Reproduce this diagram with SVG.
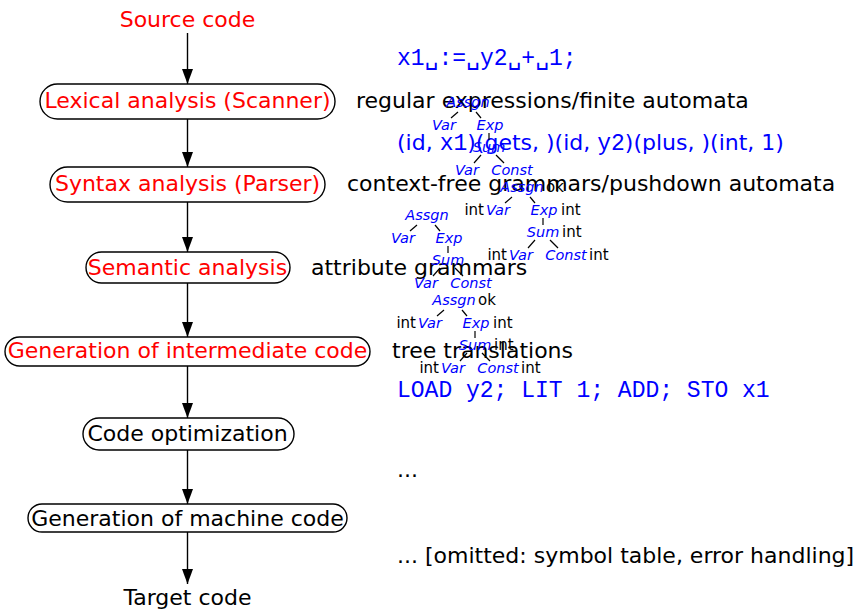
<svg xmlns="http://www.w3.org/2000/svg" xmlns:xlink="http://www.w3.org/1999/xlink" width="863" height="611" viewBox="0 0 863 611">
  <style>
    .bg { fill: #ffffff; }
    .main { font-family: "DejaVu Sans", "Liberation Sans", sans-serif; font-size: 22px; }
    .red { fill: #ff0000; }
    .ink { fill: #000000; }
    .blue { fill: #0000ff; }
    .box { fill: #ffffff; stroke: #000000; stroke-width: 1.4; }
    .edge { stroke: #000000; stroke-width: 1.4; fill: none; }
    .mono { font-family: "Liberation Mono", "DejaVu Sans Mono", monospace; font-size: 23px; }
    .tn { font-family: "DejaVu Sans", sans-serif; font-size: 14.5px; font-style: italic; fill: #0000ff; }
    .ta { font-family: "DejaVu Sans", sans-serif; font-size: 15px; fill: #000000; }
    .tl { stroke: #000000; stroke-width: 1.2; }
  </style>
  <defs>
    <marker id="arrow" markerUnits="userSpaceOnUse" markerWidth="15" markerHeight="11" viewBox="0 0 15 11" refX="15" refY="5.5" orient="auto">
      <path d="M0,0 L15,5.5 L0,11 z" fill="#000000"/>
    </marker>
    <!-- abstract syntax tree of the assignment, origin = centre/baseline of the root -->
    <g id="tree-plain">
      <text class="tn" x="0" y="0" text-anchor="middle">Assgn</text>
      <line class="tl" x1="-10" y1="5" x2="-17" y2="11"/>
      <line class="tl" x1="8" y1="5" x2="13" y2="11"/>
      <text class="tn" x="-24" y="23" text-anchor="middle">Var</text>
      <text class="tn" x="22" y="23" text-anchor="middle">Exp</text>
      <line class="tl" x1="21" y1="26" x2="21" y2="33"/>
      <text class="tn" x="21" y="45" text-anchor="middle">Sum</text>
      <line class="tl" x1="13" y1="48" x2="6" y2="56"/>
      <line class="tl" x1="28" y1="48" x2="36" y2="56"/>
      <text class="tn" x="-1" y="68" text-anchor="middle">Var</text>
      <text class="tn" x="44" y="68" text-anchor="middle">Const</text>
    </g>
    <!-- same tree decorated with attribute values -->
    <g id="tree-attr">
      <use xlink:href="#tree-plain"/>
      <text class="ta" x="24" y="0">ok</text>
      <text class="ta" x="-38" y="23" text-anchor="end">int</text>
      <text class="ta" x="39" y="23">int</text>
      <text class="ta" x="40" y="45">int</text>
      <text class="ta" x="-15" y="68" text-anchor="end">int</text>
      <text class="ta" x="67" y="68">int</text>
    </g>
  </defs>

  <rect class="bg" x="0" y="0" width="863" height="611"/>

  <!-- pipeline connectors -->
  <g id="connectors">
    <line class="edge" x1="187.5" y1="33" x2="187.5" y2="84" marker-end="url(#arrow)"/>
    <line class="edge" x1="187.5" y1="119" x2="187.5" y2="167" marker-end="url(#arrow)"/>
    <line class="edge" x1="187.5" y1="202" x2="187.5" y2="252" marker-end="url(#arrow)"/>
    <line class="edge" x1="187.5" y1="283" x2="187.5" y2="337" marker-end="url(#arrow)"/>
    <line class="edge" x1="187.5" y1="366" x2="187.5" y2="418" marker-end="url(#arrow)"/>
    <line class="edge" x1="187.5" y1="450" x2="187.5" y2="504" marker-end="url(#arrow)"/>
    <line class="edge" x1="187.5" y1="532" x2="187.5" y2="584" marker-end="url(#arrow)"/>
  </g>

  <!-- pipeline stages -->
  <g id="source">
    <text class="main red" x="187.5" y="27" text-anchor="middle">Source code</text>
  </g>
  <g id="lexical">
    <rect class="box" x="40" y="84" width="295" height="35" rx="17.5"/>
    <text class="main red" x="187.5" y="108" text-anchor="middle">Lexical analysis (Scanner)</text>
  </g>
  <g id="syntax">
    <rect class="box" x="50" y="167" width="275" height="35" rx="17.5"/>
    <text class="main red" x="187.5" y="191" text-anchor="middle">Syntax analysis (Parser)</text>
  </g>
  <g id="semantic">
    <rect class="box" x="86" y="252" width="204" height="31" rx="15.5"/>
    <text class="main red" x="187.5" y="275" text-anchor="middle">Semantic analysis</text>
  </g>
  <g id="intermediate">
    <rect class="box" x="5" y="337" width="365" height="29" rx="14.5"/>
    <text class="main red" x="187.5" y="358" text-anchor="middle">Generation of intermediate code</text>
  </g>
  <g id="optimization">
    <rect class="box" x="83" y="418" width="211" height="32" rx="16"/>
    <text class="main ink" x="187.5" y="441" text-anchor="middle">Code optimization</text>
  </g>
  <g id="machine">
    <rect class="box" x="28" y="504" width="319" height="28" rx="14"/>
    <text class="main ink" x="187.5" y="526" text-anchor="middle">Generation of machine code</text>
  </g>
  <g id="target">
    <text class="main ink" x="187.5" y="605" text-anchor="middle">Target code</text>
  </g>

  <!-- formalisms per phase -->
  <g id="formalisms">
    <text class="main ink" x="356" y="108">regular expressions/finite automata</text>
    <text class="main ink" x="347" y="191">context-free grammars/pushdown automata</text>
    <text class="main ink" x="311" y="275">attribute grammars</text>
    <text class="main ink" x="392" y="358">tree translations</text>
    <text class="main ink" x="397" y="477">...</text>
    <text class="main ink" x="397" y="563">... [omitted: symbol table, error handling]</text>
  </g>

  <!-- running example through the phases -->
  <g id="example">
    <text class="mono blue" x="397" y="65">x1␣:=␣y2␣+␣1;</text>
    <text class="main blue" x="397" y="150">(id, <tspan class="mono">x1</tspan>)(gets, )(id, <tspan class="mono">y2</tspan>)(plus, )(int, 1)</text>
    <text class="mono blue" x="397" y="397">LOAD y2; LIT 1; ADD; STO x1</text>
  </g>

  <g id="tree-parse" transform="translate(468,107)">
    <use xlink:href="#tree-plain"/>
  </g>
  <g id="tree-checked" transform="translate(522,192)">
    <use xlink:href="#tree-attr"/>
  </g>
  <g id="tree-semantic" transform="translate(427,220)">
    <use xlink:href="#tree-plain"/>
  </g>
  <g id="tree-translated" transform="translate(454,305)">
    <use xlink:href="#tree-attr"/>
  </g>
</svg>
